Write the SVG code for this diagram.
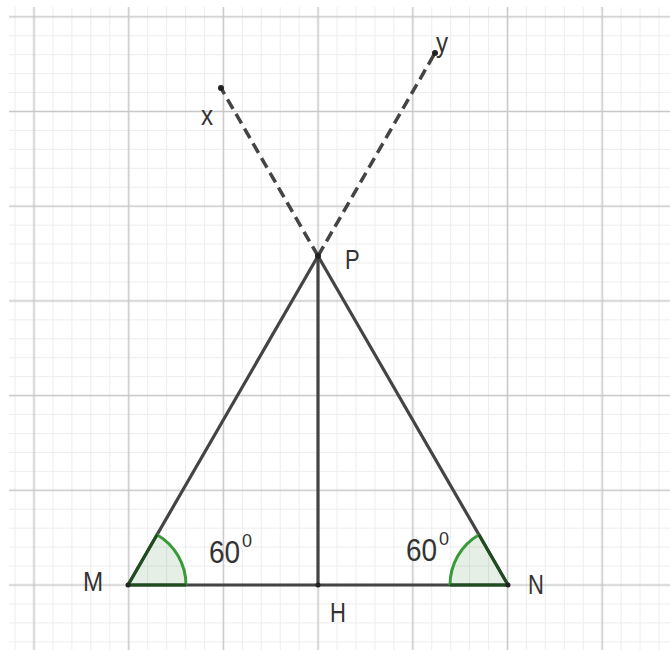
<svg xmlns="http://www.w3.org/2000/svg" width="670" height="650" viewBox="0 0 670 650">
<defs>
<pattern id="grid" patternUnits="userSpaceOnUse" x="-13.35" y="-30.55" width="94.7" height="94.7">
<g stroke="#ededed" stroke-width="1">
<line x1="9.47" y1="0" x2="9.47" y2="94.7"/>
<line x1="28.41" y1="0" x2="28.41" y2="94.7"/>
<line x1="66.29" y1="0" x2="66.29" y2="94.7"/>
<line x1="85.23" y1="0" x2="85.23" y2="94.7"/>
<line y1="9.47" x1="0" y2="9.47" x2="94.7"/>
<line y1="28.41" x1="0" y2="28.41" x2="94.7"/>
<line y1="66.29" x1="0" y2="66.29" x2="94.7"/>
<line y1="85.23" x1="0" y2="85.23" x2="94.7"/>
</g>
<g stroke="#c8c8c8" stroke-width="1.6">
<line x1="47.35" y1="0" x2="47.35" y2="94.7"/>
<line y1="47.35" x1="0" y2="47.35" x2="94.7"/>
</g>
</pattern>
<style>
.seg{stroke:#444;stroke-width:3.2;stroke-linecap:round;fill:none}
.ray{stroke:#444;stroke-width:3.5;stroke-dasharray:11 6;fill:none}
.lbl{font-family:"Liberation Sans",Arial,sans-serif;font-size:22px;fill:#333}
.ang{font-family:"Liberation Sans",Arial,sans-serif;font-size:28px;fill:#333}
.sup{font-family:"Liberation Sans",Arial,sans-serif;font-size:18px;fill:#333}
.sector{fill:rgba(0,100,0,0.1);stroke:none}
.arc{stroke:#3a9a3a;stroke-width:3;fill:none}
.pt{fill:#222}
</style>
</defs>
<rect width="670" height="650" fill="#ffffff"/>
<rect x="9" y="7" width="661" height="643" fill="url(#grid)"/>

<g id="connectors">
<line class="ray" x1="318" y1="256" x2="221" y2="88"/>
<line class="ray" x1="318" y1="256" x2="435" y2="53"/>
<line class="seg" x1="128" y1="585" x2="318" y2="256"/>
<line class="seg" x1="318" y1="256" x2="508" y2="585"/>
<line class="seg" x1="128" y1="585" x2="508" y2="585"/>
<line class="seg" x1="318" y1="256" x2="318" y2="585"/>
</g>

<g id="angle-M">
<path class="sector" d="M128,585 L186,585 A58,58 0 0 0 157,534.77 Z"/>
<path class="arc" d="M186,585 A58,58 0 0 0 157,534.77"/>
<line x1="128" y1="585" x2="157" y2="534.77" stroke="#1f4d1f" stroke-width="3"/>
<line x1="128" y1="585" x2="186" y2="585" stroke="#1f4d1f" stroke-width="3"/>
<text class="ang" transform="translate(209,563) scale(1,1.12)">60</text>
<text class="sup" x="242" y="547">0</text>
</g>

<g id="angle-N">
<path class="sector" d="M508,585 L450,585 A58,58 0 0 1 479,534.77 Z"/>
<path class="arc" d="M450,585 A58,58 0 0 1 479,534.77"/>
<line x1="508" y1="585" x2="479" y2="534.77" stroke="#1f4d1f" stroke-width="3"/>
<line x1="508" y1="585" x2="450" y2="585" stroke="#1f4d1f" stroke-width="3"/>
<text class="ang" transform="translate(406,561) scale(1,1.12)">60</text>
<text class="sup" x="439" y="545">0</text>
</g>

<g id="M"><circle class="pt" cx="128" cy="585" r="2.5"/><text class="lbl" transform="translate(83,591) scale(1.1,1.25)">M</text></g>
<g id="N"><circle class="pt" cx="508" cy="585" r="2.5"/><text class="lbl" transform="translate(528,594) scale(1,1.25)">N</text></g>
<g id="H"><circle class="pt" cx="318" cy="585" r="2.5"/><text class="lbl" transform="translate(330,622) scale(1,1.25)">H</text></g>
<g id="P"><circle class="pt" cx="318" cy="256" r="3"/><text class="lbl" transform="translate(345,269) scale(1,1.25)">P</text></g>
<g id="x"><circle class="pt" cx="221" cy="88" r="3"/><text class="lbl" transform="translate(201,125) scale(1.1,1.25)">x</text></g>
<g id="y"><circle class="pt" cx="435" cy="53" r="3"/><text class="lbl" transform="translate(436,52) scale(1.1,1.25)">y</text></g>
</svg>
